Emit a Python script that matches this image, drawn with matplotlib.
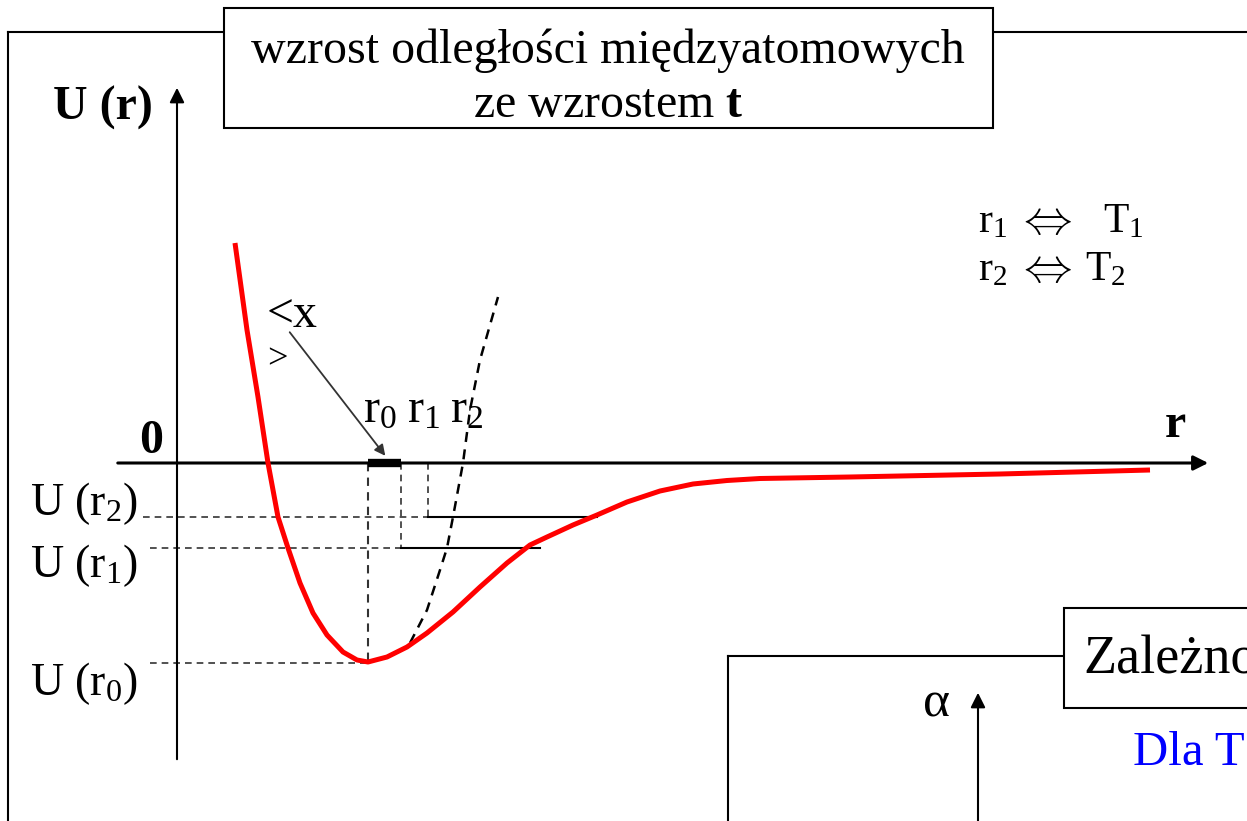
import numpy as np
import matplotlib.pyplot as plt
from matplotlib.patches import Rectangle

plt.rcParams['font.family'] = ['Liberation Serif', 'DejaVu Serif']
plt.rcParams['mathtext.fontset'] = 'custom'
plt.rcParams['mathtext.rm'] = 'Liberation Serif'
plt.rcParams['mathtext.it'] = 'Liberation Serif:italic'
plt.rcParams['mathtext.bf'] = 'Liberation Serif:bold'

# potential energy curve U(r) (arbitrary units, origin at axis crossing)
r_curve = [0.57, 0.69, 0.80, 0.90, 1.00, 1.10, 1.22, 1.35, 1.49, 1.65, 1.79, 1.90,
           2.09, 2.29, 2.49, 2.75, 3.02, 3.29, 3.52, 3.69, 3.95, 4.19, 4.49, 4.82,
           5.15, 5.49, 5.82, 6.72, 8.22, 9.72]
U_curve = [2.20, 1.33, 0.66, 0.00, -0.54, -0.85, -1.20, -1.50, -1.72, -1.89, -1.97, -1.99,
           -1.94, -1.84, -1.70, -1.49, -1.24, -1.00, -0.82, -0.74, -0.62, -0.52, -0.39, -0.28,
           -0.21, -0.175, -0.155, -0.14, -0.11, -0.07]

# harmonic (parabolic) approximation, dashed
r_harm = [2.32, 2.49, 2.62, 2.69, 2.75, 2.85, 2.92, 3.02, 3.20]
U_harm = [-1.80, -1.47, -1.07, -0.85, -0.54, 0.00, 0.53, 1.03, 1.66]

# equilibrium and thermal positions with their energies
r_levels = [1.90, 2.23, 2.50]          # r0, r1, r2
U_levels = [-2.00, -0.85, -0.54]       # U(r0), U(r1), U(r2)
r_right = [1.90, 3.62, 4.19]           # where the energy level meets the curve
level_labels = ['U (r$_0$)', 'U (r$_1$)', 'U (r$_2$)']
r_names = ['r$_0$', 'r$_1$', 'r$_2$']

fig = plt.figure(figsize=(12.47, 8.21), dpi=100)
ax = fig.add_axes([0, 0, 1, 1])
ax.set_xlim(-1.78, 10.69)
ax.set_ylim(-3.58, 4.63)
ax.axis('off')

fs = 34.5

# outer frame of the first panel
ax.plot([-1.70, -1.70], [-3.7, 4.31], color='black', lw=1.5)
ax.plot([-1.70, 0.46], [4.31, 4.31], color='black', lw=1.5)
ax.plot([8.15, 10.8], [4.31, 4.31], color='black', lw=1.5)

# title box
ax.add_patch(Rectangle((0.46, 3.35), 7.69, 1.20, fill=True, facecolor='white',
                       edgecolor='black', lw=1.5, zorder=3))
ax.text(4.30, 4.00, 'wzrost odległości międzyatomowych', ha='center', va='baseline',
        fontsize=fs, zorder=4)
ax.text(4.30, 3.46, 'ze wzrostem $\\mathbf{t}$', ha='center', va='baseline', fontsize=fs, zorder=4)

# axes with arrows
ax.annotate('', xy=(-0.01, 3.78), xytext=(-0.01, -2.99),
            arrowprops=dict(arrowstyle='-|>', color='black', lw=1.5, mutation_scale=22))
ax.annotate('', xy=(10.33, 0), xytext=(-0.63, 0),
            arrowprops=dict(arrowstyle='-|>', color='black', lw=2.2, mutation_scale=22))
ax.text(-0.25, 3.55, 'U (r)', ha='right', va='center', fontsize=fs, fontweight='bold')
ax.text(-0.27, 0.22, '0', ha='center', va='center', fontsize=fs, fontweight='bold')
ax.text(9.97, 0.38, 'r', ha='center', va='center', fontsize=fs, fontweight='bold')

# dashed guide lines to the energy levels
for r, U, x0 in zip(r_levels, U_levels, [-0.28, -0.28, -0.35]):
    ax.plot([x0, r], [U, U], color='#333333', lw=1.2, ls=(0, (4, 3)))
    ax.plot([r, r], [0, U], color='#333333', lw=1.5 if r == r_levels[0] else 1.2, ls=(0, (4, 3)))
for r, U, rr in zip(r_levels[1:], U_levels[1:], r_right[1:]):
    ax.plot([r, rr], [U, U], color='black', lw=1.5)

# mean displacement bar
ax.plot([r_levels[0], r_levels[1]], [0, 0], color='black', lw=6, solid_capstyle='butt')

# curves
ax.plot(r_harm, U_harm, color='black', lw=1.8, ls=(0, (4, 3)))
ax.plot(r_curve, U_curve, color='red', lw=3.6, solid_joinstyle='round',
        solid_capstyle='butt', zorder=5)

for lab, yb in zip(level_labels, [-2.32, -1.14, -0.52]):
    ax.text(-0.40, yb, lab, ha='right', va='baseline', fontsize=33)
for i, name in enumerate(r_names):
    ax.text(1.85 + i * 0.435, 0.41, name, ha='left', va='baseline', fontsize=fs)

# <x> annotation
ax.text(0.89, 1.36, '<x', ha='left', va='baseline', fontsize=fs)
ax.text(0.89, 0.95, '>', ha='left', va='baseline', fontsize=26)
ax.annotate('', xy=(2.09, 0.05), xytext=(1.10, 1.33),
            arrowprops=dict(arrowstyle='-|>', color='#333333', lw=1.3, mutation_scale=16))

# correspondence r <-> T
fs_rt = 30
for yb, tx, sub in [(2.31, 9.25, '1'), (1.83, 9.07, '2')]:
    ax.text(8.00, yb, 'r$_%s$' % sub, ha='left', va='baseline', fontsize=fs_rt)
    ax.text(8.37, yb - 0.02, '$\\Leftrightarrow$', ha='left', va='baseline',
            fontsize=35, math_fontfamily='cm')
    ax.text(tx, yb, 'T$_%s$' % sub, ha='left', va='baseline', fontsize=fs_rt)

# second panel (cut off at the bottom right)
ax.plot([5.50, 5.50], [-3.7, -1.93], color='black', lw=1.5)
ax.plot([5.50, 8.86], [-1.93, -1.93], color='black', lw=1.5)
ax.add_patch(Rectangle((8.86, -2.45), 2.0, 1.00, fill=True, facecolor='white',
                       edgecolor='black', lw=1.5, zorder=3))
ax.text(9.05, -2.10, 'Zależność', ha='left', va='baseline', fontsize=39, zorder=4)
ax.annotate('', xy=(8.00, -2.27), xytext=(8.00, -3.7),
            arrowprops=dict(arrowstyle='-|>', color='black', lw=1.5, mutation_scale=22))
ax.text(7.58, -2.41, 'α', ha='center', va='center', fontsize=37)
ax.text(9.55, -3.02, 'Dla T', ha='left', va='baseline', fontsize=35, color='blue')

fig.savefig('out.png', dpi=100)
